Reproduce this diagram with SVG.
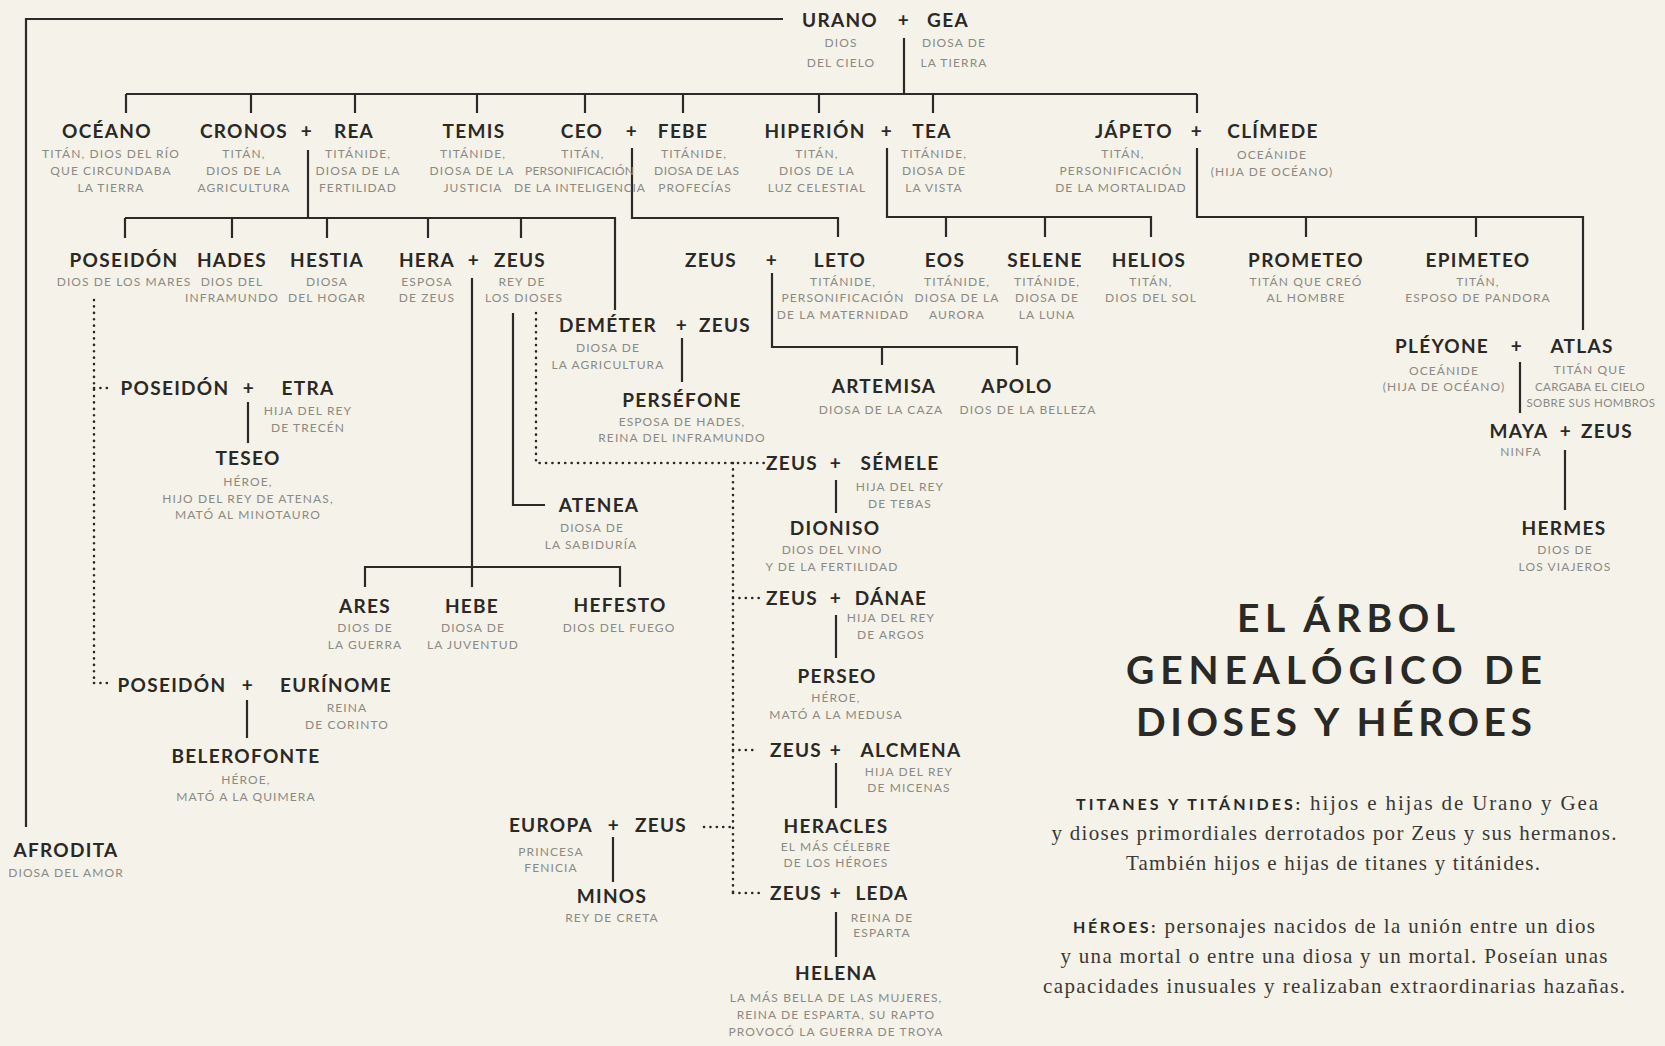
<svg xmlns="http://www.w3.org/2000/svg" width="1665" height="1046" viewBox="0 0 1665 1046">
<style>
.n{font-family:Lato,"Open Sans",sans-serif;font-size:19px;font-weight:700;letter-spacing:1.3px;fill:#2a2926;text-anchor:middle}
.s{font-family:Lato,"Open Sans",sans-serif;font-size:12px;letter-spacing:1.1px;fill:#8c8a84;text-anchor:middle}
.s2{font-family:Lato,"Open Sans",sans-serif;font-size:11.5px;letter-spacing:0.4px;fill:#8c8a84;text-anchor:middle}
.t{font-family:Lato,"Open Sans",sans-serif;font-size:39px;font-weight:700;fill:#2a2926;text-anchor:middle}
.p{font-family:"Liberation Serif",serif;font-size:21px;fill:#3a3935;text-anchor:middle}
.k{font-family:Lato,"Open Sans",sans-serif;font-size:16px;font-weight:700;letter-spacing:1.2px;fill:#2a2926}
.ln{fill:none;stroke:#2b2a27;stroke-width:2.2}
.dt{fill:none;stroke:#2b2a27;stroke-width:2.6;stroke-linecap:round;stroke-dasharray:0.1 6.3}
</style>
<rect width="1665" height="1046" fill="#f4f2e9"/>
<g id="connectors">
<path class="ln" d="M26,827V19H783"/>
<path class="ln" d="M904,38V94M126,94H1197M126,94V113M251,94V113M355,94V113M477,94V113M585,94V113M683,94V113M819,94V113M933,94V113M1197,94V113"/>
<path class="ln" d="M308,150V218M125,218H615V310M125,218V238M232,218V238M327,218V238M428,218V238M521,218V238"/>
<path class="ln" d="M632,148V218H838V237"/>
<path class="ln" d="M887,148V217H1151V237M946,217V237M1045,217V237"/>
<path class="ln" d="M1197,148V217H1583V330M1306,217V237M1476,217V237"/>
<path class="ln" d="M472,278V587M365,587V567H620V587"/>
<path class="ln" d="M513,313V505H545"/>
<path class="ln" d="M682,338V382"/>
<path class="ln" d="M772,273V347H1017V365M882,347V365"/>
<path class="ln" d="M1520,362V413M1565,450V510"/>
<path class="ln" d="M248,402V443M247,700V738"/>
<path class="ln" d="M836,480V513M836,615V658M836,763V808M836,912V957M613,837V882"/>
<path class="dt" d="M94,300V683M94,388H113M94,683H113"/>
<path class="dt" d="M536,313V463H764"/>
<path class="dt" d="M733,463V893M733,598H764M733,750H753M733,893H760M704,827H733"/>
</g>
<g id="urano-gea"><text class="n" x="840" y="27">URANO</text><text class="n" x="904" y="27">+</text><text class="n" x="948" y="27">GEA</text>
<text class="s" x="841" y="47">DIOS</text><text class="s" x="841" y="67">DEL CIELO</text><text class="s" x="954" y="47">DIOSA DE</text><text class="s" x="954" y="67">LA TIERRA</text></g>
<g id="oceano"><text class="n" x="107" y="138">OCÉANO</text><text class="s" x="111" y="158">TITÁN, DIOS DEL RÍO</text><text class="s" x="111" y="175">QUE CIRCUNDABA</text><text class="s" x="111" y="192">LA TIERRA</text></g>
<g id="cronos-rea"><text class="n" x="244" y="138">CRONOS</text><text class="n" x="307" y="138">+</text><text class="n" x="354" y="138">REA</text>
<text class="s" x="244" y="158">TITÁN,</text><text class="s" x="244" y="175">DIOS DE LA</text><text class="s" x="244" y="192">AGRICULTURA</text>
<text class="s" x="358" y="158">TITÁNIDE,</text><text class="s" x="358" y="175">DIOSA DE LA</text><text class="s" x="358" y="192">FERTILIDAD</text></g>
<g id="temis"><text class="n" x="474" y="138">TEMIS</text><text class="s" x="473" y="158">TITÁNIDE,</text><text class="s" x="472" y="175">DIOSA DE LA</text><text class="s" x="473" y="192">JUSTICIA</text></g>
<g id="ceo-febe"><text class="n" x="582" y="138">CEO</text><text class="n" x="632" y="138">+</text><text class="n" x="683" y="138">FEBE</text>
<text class="s" x="583" y="158">TITÁN,</text><text class="s" x="580" y="175" textLength="110" lengthAdjust="spacing">PERSONIFICACIÓN</text><text class="s" x="580" y="192" textLength="132" lengthAdjust="spacing">DE LA INTELIGENCIA</text>
<text class="s" x="694" y="158">TITÁNIDE,</text><text class="s" x="697" y="175" textLength="86" lengthAdjust="spacing">DIOSA DE LAS</text><text class="s" x="695" y="192">PROFECÍAS</text></g>
<g id="hiperion-tea"><text class="n" x="815" y="138">HIPERIÓN</text><text class="n" x="887" y="138">+</text><text class="n" x="932" y="138">TEA</text>
<text class="s" x="817" y="158">TITÁN,</text><text class="s" x="817" y="175">DIOS DE LA</text><text class="s" x="817" y="192">LUZ CELESTIAL</text>
<text class="s" x="934" y="158">TITÁNIDE,</text><text class="s" x="934" y="175">DIOSA DE</text><text class="s" x="934" y="192">LA VISTA</text></g>
<g id="japeto-climede"><text class="n" x="1134" y="138">JÁPETO</text><text class="n" x="1197" y="138">+</text><text class="n" x="1273" y="138">CLÍMEDE</text>
<text class="s" x="1123" y="158">TITÁN,</text><text class="s" x="1121" y="175">PERSONIFICACIÓN</text><text class="s" x="1121" y="192">DE LA MORTALIDAD</text>
<text class="s" x="1272" y="159">OCEÁNIDE</text><text class="s" x="1272" y="176">(HIJA DE OCÉANO)</text></g>
<g id="poseidon"><text class="n" x="124" y="267">POSEIDÓN</text><text class="s" x="124" y="286">DIOS DE LOS MARES</text></g>
<g id="hades"><text class="n" x="232" y="267">HADES</text><text class="s" x="232" y="286">DIOS DEL</text><text class="s" x="232" y="302">INFRAMUNDO</text></g>
<g id="hestia"><text class="n" x="327" y="267">HESTIA</text><text class="s" x="327" y="286">DIOSA</text><text class="s" x="327" y="302">DEL HOGAR</text></g>
<g id="hera-zeus"><text class="n" x="427" y="267">HERA</text><text class="n" x="474" y="267">+</text><text class="n" x="520" y="267">ZEUS</text>
<text class="s" x="427" y="286">ESPOSA</text><text class="s" x="427" y="302">DE ZEUS</text><text class="s" x="522" y="286">REY DE</text><text class="s" x="524" y="302">LOS DIOSES</text></g>
<g id="zeus-leto"><text class="n" x="711" y="267">ZEUS</text><text class="n" x="772" y="267">+</text><text class="n" x="840" y="267">LETO</text>
<text class="s" x="843" y="286">TITÁNIDE,</text><text class="s" x="843" y="302">PERSONIFICACIÓN</text><text class="s" x="843" y="319">DE LA MATERNIDAD</text></g>
<g id="eos"><text class="n" x="945" y="267">EOS</text><text class="s" x="957" y="286">TITÁNIDE,</text><text class="s" x="957" y="302">DIOSA DE LA</text><text class="s" x="957" y="319">AURORA</text></g>
<g id="selene"><text class="n" x="1045" y="267">SELENE</text><text class="s" x="1047" y="286">TITÁNIDE,</text><text class="s" x="1047" y="302">DIOSA DE</text><text class="s" x="1047" y="319">LA LUNA</text></g>
<g id="helios"><text class="n" x="1149" y="267">HELIOS</text><text class="s" x="1151" y="286">TITÁN,</text><text class="s" x="1151" y="302">DIOS DEL SOL</text></g>
<g id="prometeo"><text class="n" x="1306" y="267">PROMETEO</text><text class="s" x="1306" y="286">TITÁN QUE CREÓ</text><text class="s" x="1306" y="302">AL HOMBRE</text></g>
<g id="epimeteo"><text class="n" x="1478" y="267">EPIMETEO</text><text class="s" x="1478" y="286">TITÁN,</text><text class="s" x="1478" y="302">ESPOSO DE PANDORA</text></g>
<g id="demeter-zeus"><text class="n" x="608" y="332">DEMÉTER</text><text class="n" x="682" y="332">+</text><text class="n" x="725" y="332">ZEUS</text>
<text class="s" x="608" y="352">DIOSA DE</text><text class="s" x="608" y="369">LA AGRICULTURA</text></g>
<g id="persefone"><text class="n" x="682" y="407">PERSÉFONE</text><text class="s" x="682" y="426">ESPOSA DE HADES,</text><text class="s" x="682" y="442">REINA DEL INFRAMUNDO</text></g>
<g id="artemisa"><text class="n" x="884" y="393">ARTEMISA</text><text class="s" x="881" y="414">DIOSA DE LA CAZA</text></g>
<g id="apolo"><text class="n" x="1017" y="393">APOLO</text><text class="s" x="1028" y="414">DIOS DE LA BELLEZA</text></g>
<g id="pleyone-atlas"><text class="n" x="1442" y="353">PLÉYONE</text><text class="n" x="1517" y="353">+</text><text class="n" x="1582" y="353">ATLAS</text>
<text class="s" x="1444" y="375">OCEÁNIDE</text><text class="s" x="1444" y="391">(HIJA DE OCÉANO)</text>
<text class="s" x="1590" y="374">TITÁN QUE</text><text class="s2" x="1590" y="391">CARGABA EL CIELO</text><text class="s2" x="1591" y="407">SOBRE SUS HOMBROS</text></g>
<g id="maya-zeus"><text class="n" x="1519" y="438">MAYA</text><text class="n" x="1566" y="438">+</text><text class="n" x="1607" y="438">ZEUS</text><text class="s" x="1521" y="456">NINFA</text></g>
<g id="hermes"><text class="n" x="1564" y="535">HERMES</text><text class="s" x="1565" y="554">DIOS DE</text><text class="s" x="1565" y="571">LOS VIAJEROS</text></g>
<g id="poseidon-etra"><text class="n" x="175" y="395">POSEIDÓN</text><text class="n" x="249" y="395">+</text><text class="n" x="308" y="395">ETRA</text>
<text class="s" x="308" y="415">HIJA DEL REY</text><text class="s" x="308" y="432">DE TRECÉN</text></g>
<g id="teseo"><text class="n" x="248" y="465">TESEO</text><text class="s" x="248" y="486">HÉROE,</text><text class="s" x="248" y="503">HIJO DEL REY DE ATENAS,</text><text class="s" x="248" y="519">MATÓ AL MINOTAURO</text></g>
<g id="zeus-semele"><text class="n" x="792" y="470">ZEUS</text><text class="n" x="836" y="470">+</text><text class="n" x="900" y="470">SÉMELE</text>
<text class="s" x="900" y="491">HIJA DEL REY</text><text class="s" x="900" y="508">DE TEBAS</text></g>
<g id="dioniso"><text class="n" x="835" y="535">DIONISO</text><text class="s" x="832" y="554">DIOS DEL VINO</text><text class="s" x="832" y="571">Y DE LA FERTILIDAD</text></g>
<g id="atenea"><text class="n" x="599" y="512">ATENEA</text><text class="s" x="592" y="532">DIOSA DE</text><text class="s" x="591" y="549">LA SABIDURÍA</text></g>
<g id="ares"><text class="n" x="365" y="613">ARES</text><text class="s" x="365" y="632">DIOS DE</text><text class="s" x="365" y="649">LA GUERRA</text></g>
<g id="hebe"><text class="n" x="472" y="613">HEBE</text><text class="s" x="473" y="632">DIOSA DE</text><text class="s" x="473" y="649">LA JUVENTUD</text></g>
<g id="hefesto"><text class="n" x="620" y="612">HEFESTO</text><text class="s" x="619" y="632">DIOS DEL FUEGO</text></g>
<g id="zeus-danae"><text class="n" x="792" y="605">ZEUS</text><text class="n" x="836" y="605">+</text><text class="n" x="891" y="605">DÁNAE</text>
<text class="s" x="891" y="622">HIJA DEL REY</text><text class="s" x="891" y="639">DE ARGOS</text></g>
<g id="perseo"><text class="n" x="837" y="683">PERSEO</text><text class="s" x="836" y="702">HÉROE,</text><text class="s" x="836" y="719">MATÓ A LA MEDUSA</text></g>
<g id="poseidon-eurinome"><text class="n" x="172" y="692">POSEIDÓN</text><text class="n" x="248" y="692">+</text><text class="n" x="336" y="692">EURÍNOME</text>
<text class="s" x="347" y="712">REINA</text><text class="s" x="347" y="729">DE CORINTO</text></g>
<g id="belerofonte"><text class="n" x="246" y="763">BELEROFONTE</text><text class="s" x="246" y="784">HÉROE,</text><text class="s" x="246" y="801">MATÓ A LA QUIMERA</text></g>
<g id="afrodita"><text class="n" x="66" y="857">AFRODITA</text><text class="s" x="66" y="877">DIOSA DEL AMOR</text></g>
<g id="zeus-alcmena"><text class="n" x="796" y="757">ZEUS</text><text class="n" x="836" y="757">+</text><text class="n" x="911" y="757">ALCMENA</text>
<text class="s" x="909" y="776">HIJA DEL REY</text><text class="s" x="909" y="792">DE MICENAS</text></g>
<g id="heracles"><text class="n" x="836" y="833">HERACLES</text><text class="s" x="836" y="851">EL MÁS CÉLEBRE</text><text class="s" x="836" y="867">DE LOS HÉROES</text></g>
<g id="europa-zeus"><text class="n" x="551" y="832">EUROPA</text><text class="n" x="614" y="832">+</text><text class="n" x="661" y="832">ZEUS</text>
<text class="s" x="551" y="856">PRINCESA</text><text class="s" x="551" y="872">FENICIA</text></g>
<g id="minos"><text class="n" x="612" y="903">MINOS</text><text class="s" x="612" y="922">REY DE CRETA</text></g>
<g id="zeus-leda"><text class="n" x="796" y="900">ZEUS</text><text class="n" x="836" y="900">+</text><text class="n" x="882" y="900">LEDA</text>
<text class="s" x="882" y="922">REINA DE</text><text class="s" x="882" y="937">ESPARTA</text></g>
<g id="helena"><text class="n" x="836" y="980">HELENA</text><text class="s" x="836" y="1002">LA MÁS BELLA DE LAS MUJERES,</text><text class="s" x="836" y="1019">REINA DE ESPARTA, SU RAPTO</text><text class="s" x="836" y="1036">PROVOCÓ LA GUERRA DE TROYA</text></g>
<g id="title"><text class="t" x="1346" y="632" textLength="218" lengthAdjust="spacing">EL ÁRBOL</text>
<text class="t" x="1334" y="684" textLength="416" lengthAdjust="spacing">GENEALÓGICO DE</text>
<text class="t" x="1334" y="736" textLength="396" lengthAdjust="spacing">DIOSES Y HÉROES</text></g>
<g id="legend">
<text class="p" x="1337" y="810" textLength="522" lengthAdjust="spacing"><tspan class="k">TITANES Y TITÁNIDES:</tspan> hijos e hijas de Urano y Gea</text>
<text class="p" x="1334" y="840" textLength="565" lengthAdjust="spacing">y dioses primordiales derrotados por Zeus y sus hermanos.</text>
<text class="p" x="1333" y="870" textLength="414" lengthAdjust="spacing">También hijos e hijas de titanes y titánides.</text>
<text class="p" x="1334" y="933" textLength="522" lengthAdjust="spacing"><tspan class="k">HÉROES:</tspan> personajes nacidos de la unión entre un dios</text>
<text class="p" x="1334" y="963" textLength="547" lengthAdjust="spacing">y una mortal o entre una diosa y un mortal. Poseían unas</text>
<text class="p" x="1334" y="993" textLength="582" lengthAdjust="spacing">capacidades inusuales y realizaban extraordinarias  hazañas.</text>
</g>
</svg>
